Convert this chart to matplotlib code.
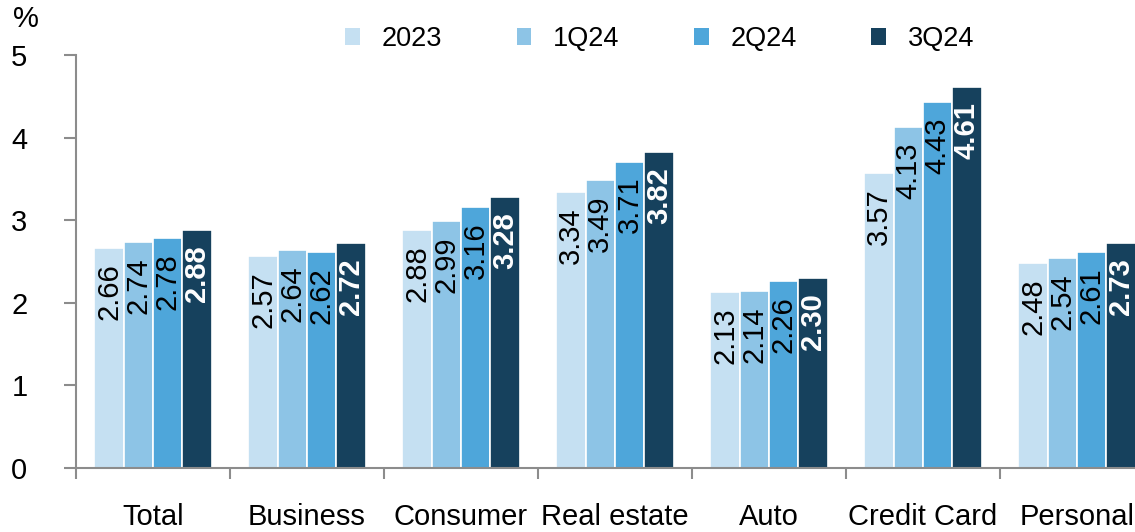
import matplotlib
matplotlib.use("Agg")
import matplotlib.pyplot as plt
from matplotlib.patches import Rectangle
import numpy as np

plt.rcParams["font.family"] = ["Liberation Sans", "DejaVu Sans"]

categories = ["Total", "Business", "Consumer", "Real estate", "Auto", "Credit Card", "Personal"]
series_names = ["2023", "1Q24", "2Q24", "3Q24"]
v_2023 = [2.66, 2.57, 2.88, 3.34, 2.13, 3.57, 2.48]
v_1q24 = [2.74, 2.64, 2.99, 3.49, 2.14, 4.13, 2.54]
v_2q24 = [2.78, 2.62, 3.16, 3.71, 2.26, 4.43, 2.61]
v_3q24 = [2.88, 2.72, 3.28, 3.82, 2.30, 4.61, 2.73]
y_ticks = [0, 1, 2, 3, 4, 5]

series = [v_2023, v_1q24, v_2q24, v_3q24]
colors = ["#C5E0F2", "#8DC4E6", "#4EA6DA", "#16415D"]
label_colors = ["black", "black", "black", "white"]
label_weights = ["normal", "normal", "normal", "bold"]

W, H = 1135, 532
fig = plt.figure(figsize=(W / 100, H / 100), dpi=100)
# axes extends slightly past the right edge of the figure
ax = fig.add_axes([76 / W, (H - 468) / H, 1078 / W, 413 / H])

fs = 21
n = len(series)
bar_w = 0.19
x = np.arange(len(categories))
for i, (vals, c) in enumerate(zip(series, colors)):
    pos = x + (i - (n - 1) / 2) * bar_w
    ax.bar(pos, vals, width=bar_w, color=c, edgecolor="white", linewidth=1.2, zorder=2)
    for px, v in zip(pos, vals):
        ax.annotate(f"{v:.2f}", xy=(px, v), xytext=(0, -11), textcoords="offset points",
                    rotation=90, ha="center", va="top", fontsize=fs,
                    color=label_colors[i], fontweight=label_weights[i], zorder=3)

ax.set_xlim(-0.5, len(categories) - 0.5)
ax.set_ylim(0, 5)
ax.set_yticks(y_ticks)
ax.set_yticklabels([str(t) for t in y_ticks], fontsize=fs)

ax.set_xticks(x)
ax.set_xticklabels(categories, fontsize=fs)
ax.set_xticks(np.arange(len(categories) + 1) - 0.5, minor=True)
ax.tick_params(axis="x", which="major", length=0, pad=25)
ax.tick_params(axis="x", which="minor", length=8, width=1.5, color="#8C8C8C", direction="out")
ax.tick_params(axis="y", which="major", length=9, width=1.5, color="#8C8C8C", pad=26)

for side in ["top", "right"]:
    ax.spines[side].set_visible(False)
for side in ["left", "bottom"]:
    ax.spines[side].set_color("#8C8C8C")
    ax.spines[side].set_linewidth(1.5)

fig.text(26 / W, 1 - 19 / H, "%", ha="center", va="center", fontsize=fs)

handles = [Rectangle((0, 0), 1, 1, facecolor=c, edgecolor="none") for c in colors]
fig.legend(handles, series_names, loc="center left", bbox_to_anchor=(345 / W, 1 - 39 / H),
           ncol=4, frameon=False, fontsize=19.5, handlelength=0.55, handleheight=0.55,
           handletextpad=0.8, columnspacing=2.75, borderpad=0, borderaxespad=0)

fig.savefig("out.png", dpi=100)
